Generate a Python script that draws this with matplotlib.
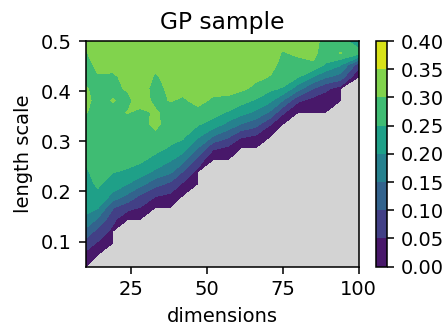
import numpy as np
import matplotlib
matplotlib.use("Agg")
import matplotlib.pyplot as plt

nan = np.nan

# grid
dimensions = [10, 14, 19, 24, 28, 33, 38, 42, 47, 52, 57, 61, 66, 71, 75, 80, 85, 89, 94, 100]
length_scales = [0.05, 0.0737, 0.0974, 0.1211, 0.1447, 0.1684, 0.1921, 0.2158, 0.2395, 0.2632,
                 0.2868, 0.3105, 0.3342, 0.3579, 0.3816, 0.4053, 0.4289, 0.4526, 0.4763, 0.5]

# values per dimension (bottom -> top in length scale), nan = not computed
d10 = [0.0, 0.037, 0.078, 0.136, 0.194, 0.209, 0.219, 0.228, 0.242, 0.257, 0.266, 0.275, 0.288, 0.302, 0.310, 0.303, 0.290, 0.285, 0.296, 0.310]
d14 = [nan, 0.0, 0.045, 0.085, 0.145, 0.207, 0.236, 0.260, 0.270, 0.275, 0.280, 0.285, 0.288, 0.290, 0.288, 0.290, 0.297, 0.310, 0.320, 0.315]
d19 = [nan, nan, 0.0, 0.036, 0.065, 0.105, 0.190, 0.225, 0.252, 0.265, 0.270, 0.280, 0.285, 0.290, 0.302, 0.290, 0.295, 0.310, 0.320, 0.320]
d24 = [nan, nan, nan, nan, 0.0, 0.070, 0.140, 0.201, 0.245, 0.262, 0.270, 0.280, 0.285, 0.302, 0.290, 0.305, 0.310, 0.320, 0.320, 0.315]
d28 = [nan, nan, nan, nan, 0.0, 0.050, 0.095, 0.170, 0.225, 0.260, 0.270, 0.280, 0.285, 0.290, 0.320, 0.320, 0.325, 0.320, 0.320, 0.315]
d33 = [nan, nan, nan, nan, nan, 0.0, 0.055, 0.120, 0.190, 0.235, 0.265, 0.290, 0.310, 0.305, 0.290, 0.285, 0.295, 0.310, 0.320, 0.320]
d38 = [nan, nan, nan, nan, nan, 0.0, 0.040, 0.090, 0.160, 0.205, 0.245, 0.265, 0.280, 0.285, 0.302, 0.310, 0.315, 0.320, 0.320, 0.320]
d42 = [nan, nan, nan, nan, nan, nan, 0.0, 0.045, 0.100, 0.170, 0.225, 0.260, 0.275, 0.285, 0.295, 0.310, 0.315, 0.320, 0.320, 0.320]
d47 = [nan, nan, nan, nan, nan, nan, nan, 0.0, 0.035, 0.085, 0.150, 0.210, 0.255, 0.290, 0.310, 0.315, 0.320, 0.320, 0.320, 0.320]
d52 = [nan, nan, nan, nan, nan, nan, nan, nan, nan, 0.0, 0.060, 0.150, 0.230, 0.270, 0.295, 0.310, 0.315, 0.320, 0.320, 0.320]
d57 = [nan, nan, nan, nan, nan, nan, nan, nan, nan, 0.0, 0.040, 0.110, 0.185, 0.245, 0.293, 0.310, 0.315, 0.320, 0.320, 0.320]
d61 = [nan, nan, nan, nan, nan, nan, nan, nan, nan, nan, 0.0, 0.060, 0.150, 0.220, 0.270, 0.310, 0.315, 0.320, 0.320, 0.315]
d66 = [nan, nan, nan, nan, nan, nan, nan, nan, nan, nan, 0.0, 0.045, 0.120, 0.190, 0.245, 0.290, 0.310, 0.315, 0.315, 0.315]
d71 = [nan, nan, nan, nan, nan, nan, nan, nan, nan, nan, nan, 0.0, 0.052, 0.140, 0.210, 0.260, 0.298, 0.310, 0.310, 0.315]
d75 = [nan, nan, nan, nan, nan, nan, nan, nan, nan, nan, nan, nan, 0.0, 0.060, 0.150, 0.245, 0.280, 0.290, 0.298, 0.310]
d80 = [nan, nan, nan, nan, nan, nan, nan, nan, nan, nan, nan, nan, nan, 0.0, 0.060, 0.170, 0.255, 0.290, 0.305, 0.310]
d85 = [nan, nan, nan, nan, nan, nan, nan, nan, nan, nan, nan, nan, nan, 0.0, 0.030, 0.100, 0.200, 0.295, 0.310, 0.310]
d89 = [nan, nan, nan, nan, nan, nan, nan, nan, nan, nan, nan, nan, nan, 0.0, 0.025, 0.060, 0.160, 0.245, 0.280, 0.290]
d94 = [nan, nan, nan, nan, nan, nan, nan, nan, nan, nan, nan, nan, nan, nan, 0.0, 0.030, 0.130, 0.205, 0.302, 0.270]
d100 = [nan, nan, nan, nan, nan, nan, nan, nan, nan, nan, nan, nan, nan, nan, nan, nan, 0.0, 0.071, 0.270, 0.220]

columns = [d10, d14, d19, d24, d28, d33, d38, d42, d47, d52,
           d57, d61, d66, d71, d75, d80, d85, d89, d94, d100]

levels = [0.0, 0.05, 0.10, 0.15, 0.20, 0.25, 0.30, 0.35, 0.40]

Z = np.ma.masked_invalid(np.array(columns).T)
X, Y = np.meshgrid(dimensions, length_scales)

fig = plt.figure(figsize=(3.2, 2.3286), dpi=140)
ax = fig.add_axes([0.191, 0.182, 0.6097, 0.692])
cax = fig.add_axes([0.8386, 0.182, 0.0245, 0.692])

ax.set_facecolor('lightgray')
cs = ax.contourf(X, Y, Z, levels=levels, cmap='viridis')
fig.colorbar(cs, cax=cax)

ax.set_xlim(10, 100)
ax.set_ylim(0.05, 0.5)
ax.set_xticks([25, 50, 75, 100])
ax.set_yticks([0.1, 0.2, 0.3, 0.4, 0.5])
ax.set_xlabel('dimensions')
ax.set_ylabel('length scale')
ax.set_title('GP sample', fontsize=12)

fig.savefig('out.png', dpi=140)
